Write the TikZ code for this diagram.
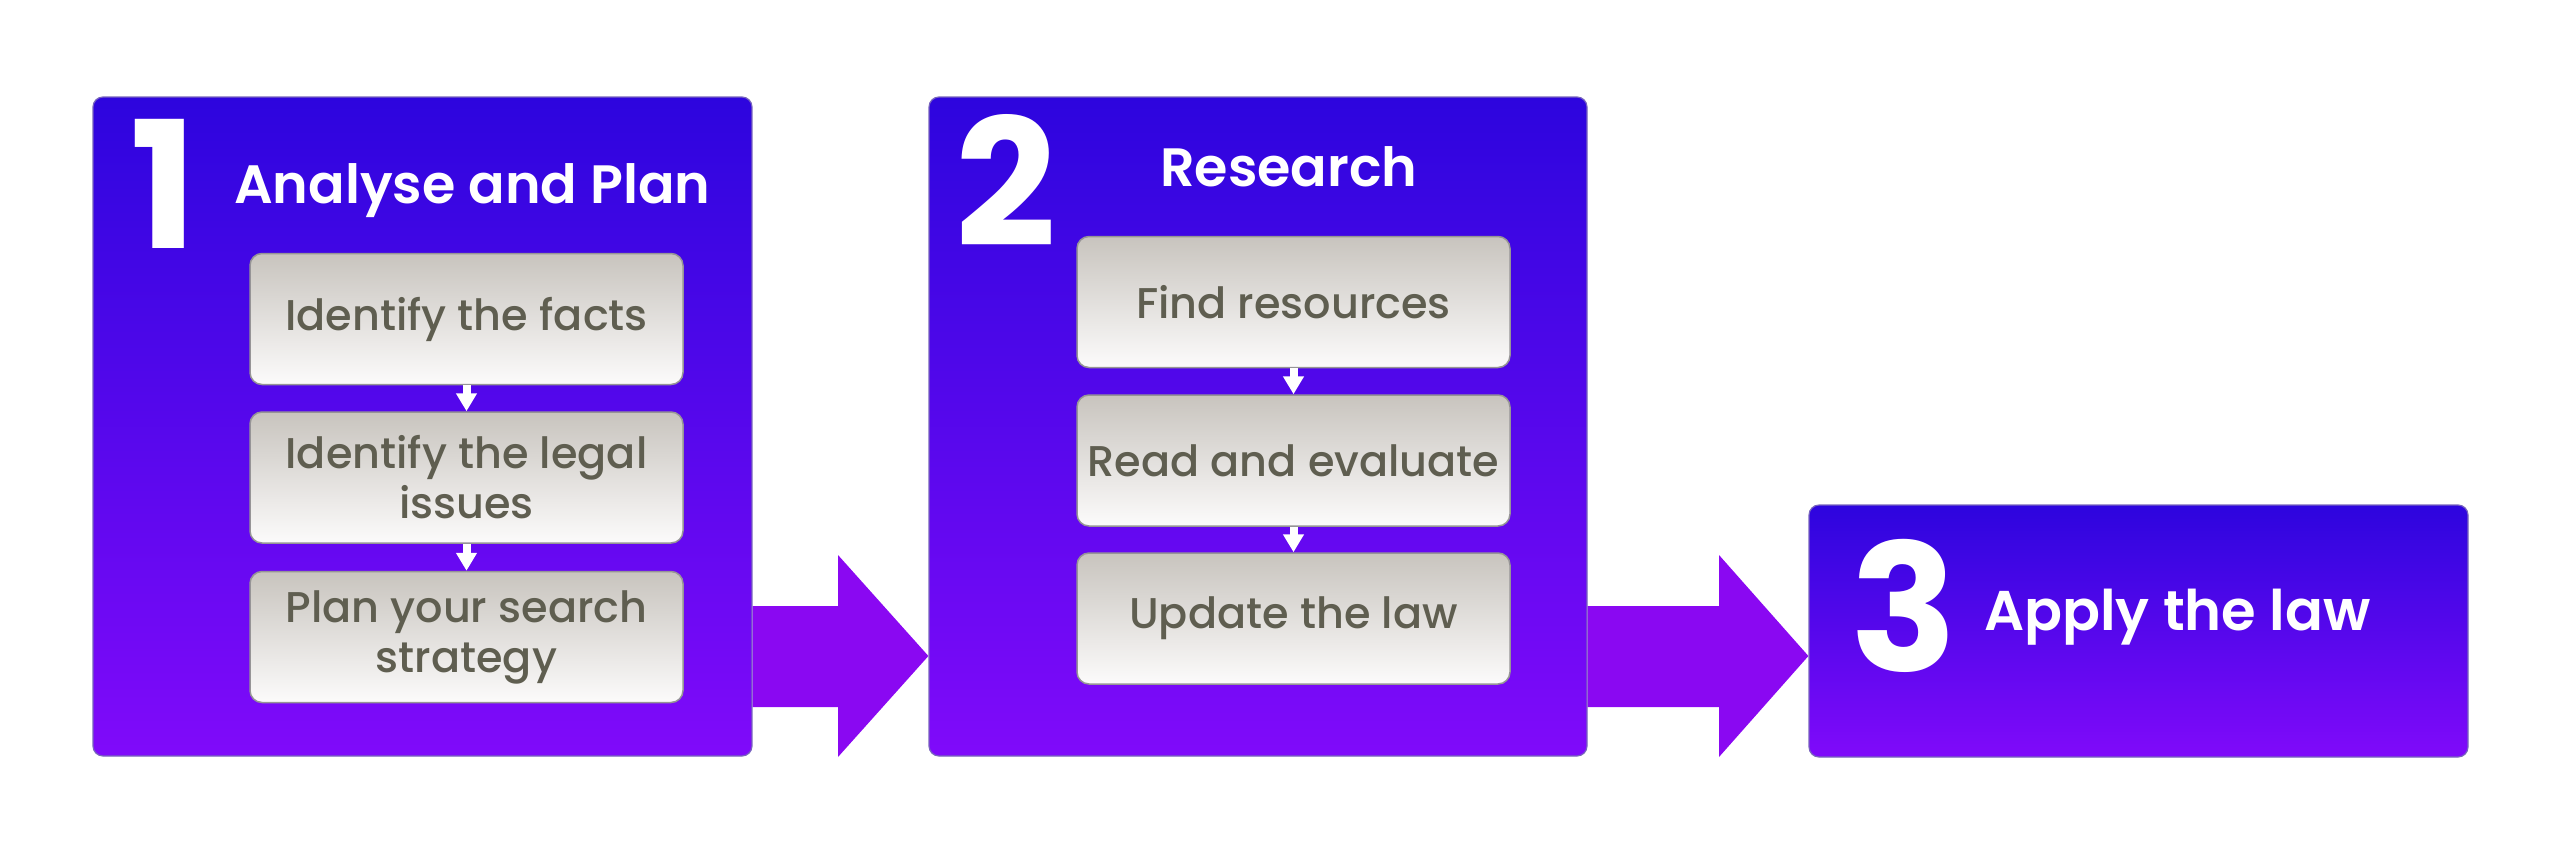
\documentclass[tikz,border=0pt]{standalone}
\usepackage{fontspec}
\setmainfont{Poppins}
\newfontfamily\popmed{Poppins Medium}
\newfontfamily\popsemi{Poppins SemiBold}
\newfontfamily\popbold{Poppins Bold}
\usetikzlibrary{arrows.meta,calc}
\definecolor{ptop}{RGB}{45,5,222}
\definecolor{pbot}{RGB}{128,10,250}
\definecolor{pline}{RGB}{120,100,190}
\definecolor{arrc}{RGB}{138,8,242}
\definecolor{btop}{RGB}{200,196,190}
\definecolor{bbot}{RGB}{252,251,251}
\definecolor{btext}{RGB}{95,94,80}
\definecolor{bline}{RGB}{150,148,150}
\begin{document}
\begin{tikzpicture}[x=1pt,y=-1pt,
 panel/.style={draw=pline, line width=1.2pt, rounded corners=10pt, top color=ptop, bottom color=pbot, inner sep=0pt},
 stepbox/.style={draw=bline, line width=1.5pt, rounded corners=12pt, top color=btop, bottom color=bbot, inner sep=0pt, minimum width=433pt, minimum height=131pt, text=btext, font=\popmed\fontsize{43}{50}\selectfont, align=center},
 digit/.style={text=white, font=\popbold\fontsize{177}{177}\selectfont, inner sep=0pt, anchor=base west},
 ttl/.style={text=white, font=\popsemi\fontsize{56}{60}\selectfont, inner sep=0pt, anchor=base west},
 flow/.style={draw=white, line width=8pt, -{Triangle[width=20pt,length=18pt]}},
 blockarrow/.style={fill=arrc}]
\useasboundingbox (0,0) rectangle (2560,852);
\fill[white] (0,0) rectangle (2560,852);
% panels
\node[panel, minimum width=659pt, minimum height=659pt] (p1) at (422.5,426.5) {};
\node[panel, minimum width=658pt, minimum height=659pt] (p2) at (1258,426.5) {};
\node[panel, minimum width=659pt, minimum height=252pt] (p3) at (2138.5,631) {};
% block arrows
\fill[blockarrow] (p1.east |- 0,606) -- (838,606) -- (838,555) -- (p2.west |- 0,656) -- (838,757) -- (838,707) -- (p1.east |- 0,707) -- cycle;
\fill[blockarrow] (p2.east |- 0,606) -- (1719,606) -- (1719,555) -- (p3.west |- 0,656) -- (1719,757) -- (1719,707) -- (p2.east |- 0,707) -- cycle;
% digits and titles
\node[digit] (d1) at (130,248) {1};
\node[ttl, font=\popsemi\fontsize{54}{60}\selectfont] (t1) at (234,203) {Analyse and Plan};
\node[digit] (d2) at (955,246) {2};
\node[ttl, font=\popsemi\fontsize{54}{60}\selectfont] (t2) at (1160,186) {Research};
\node[digit] (d3) at (1850,671) {3};
\node[ttl] (t3) at (1984,630) {Apply the law};
% step boxes
\node[stepbox] (a1) at (466.5,319) {Identify the facts};
\node[stepbox] (a2) at (466.5,477.5) {Identify the legal\\issues};
\node[stepbox] (a3) at (466.5,637) {Plan your search\\strategy};
\node[stepbox] (b1) at (1293.5,302) {Find resources};
\node[stepbox] (b2) at (1293.5,460.5) {Read and evaluate};
\node[stepbox] (b3) at (1293.5,618.5) {Update the law};
% small arrows
\draw[flow] (a1.south) -- (a2.north);
\draw[flow] (a2.south) -- (a3.north);
\draw[flow] (b1.south) -- (b2.north);
\draw[flow] (b2.south) -- (b3.north);
\end{tikzpicture}
\end{document}
